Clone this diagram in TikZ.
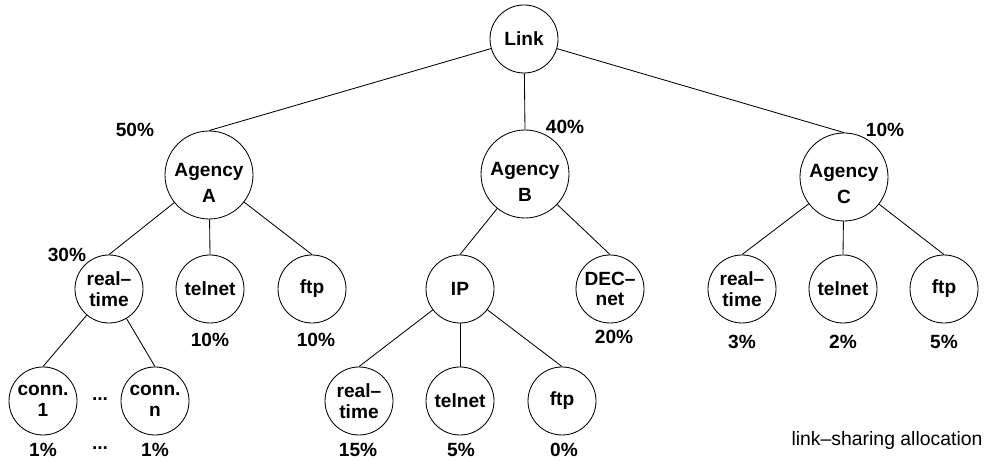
\documentclass[tikz,border=0pt]{standalone}
\usepackage{fontspec}
\setmainfont{Liberation Sans}
\begin{document}
\begin{tikzpicture}[
    cl/.style={circle, draw, line width=0.6pt, inner sep=0pt, minimum size=1.7cm, align=center, font=\fontsize{13.6}{14.5}\selectfont\bfseries},
    ag/.style={cl, minimum size=2.2cm},
    pct/.style={font=\fontsize{13.6}{14.5}\selectfont\bfseries},
    edge/.style={line width=0.6pt}]
    \useasboundingbox (0,0) rectangle (24.675,11.525);

    % Root
    \node[cl] (link) at (13.1, 10.55) {Link};

    % Agencies
    \node[ag] (agA) at (5.225, 7.15) {\rule{0pt}{20pt}Agency\\[4pt]A};
    \node[ag] (agB) at (13.125, 7.175) {\rule{0pt}{20pt}Agency\\[4pt]B};
    \node[ag] (agC) at (21.1, 7.1) {\rule{0pt}{20pt}Agency\\[4pt]C};

    % Agency A classes
    \node[cl] (aRT) at (2.725, 4.3) {real--\\time};
    \node[cl] (aTel) at (5.25, 4.3) {telnet};
    \node[cl] (aFtp) at (7.8, 4.3) {ftp};
    \node[cl] (conn1) at (1.075, 1.5) {conn.\\1};
    \node[cl] (connN) at (3.875, 1.5) {conn.\\n};
    \node[pct] (dotsA) at (2.5, 1.55) {...};

    % Agency B classes
    \node[cl] (ip) at (11.5, 4.3) {IP};
    \node[cl] (decnet) at (15.25, 4.3) {DEC--\\net};
    \node[cl] (ipRT) at (8.975, 1.5) {real--\\time};
    \node[cl] (ipTel) at (11.5, 1.5) {telnet};
    \node[cl] (ipFtp) at (14.05, 1.5) {ftp};

    % Agency C classes
    \node[cl] (cRT) at (18.55, 4.3) {real--\\time};
    \node[cl] (cTel) at (21.075, 4.3) {telnet};
    \node[cl] (cFtp) at (23.6, 4.3) {ftp};

    % Tree edges
    \foreach \p/\c in {link/agA, link/agB, link/agC, agA/aRT, agA/aTel, agA/aFtp,
                       aRT/conn1, aRT/connN, agB/ip, agB/decnet, ip/ipRT, ip/ipTel,
                       ip/ipFtp, agC/cRT, agC/cTel, agC/cFtp}
        \draw[edge] (\p) -- (\c.north);

    % Shares
    \node[pct] (pA) at (3.375, 8.275) {50\%};
    \node[pct] (pB) at (14.125, 8.35) {40\%};
    \node[pct] (pC) at (22.125, 8.275) {10\%};
    \node[pct] (pART) at (1.675, 5.15) {30\%};
    \node[pct] (pATel) at (5.25, 3.025) {10\%};
    \node[pct] (pAFtp) at (7.9, 3.025) {10\%};
    \node[pct] (pDec) at (15.35, 3.1) {20\%};
    \node[pct] (pCRT) at (18.55, 2.975) {3\%};
    \node[pct] (pCTel) at (21.075, 2.975) {2\%};
    \node[pct] (pCFtp) at (23.6, 2.975) {5\%};
    \node[pct] (pC1) at (1.075, 0.275) {1\%};
    \node[pct] (pDots) at (2.5, 0.33) {...};
    \node[pct] (pCN) at (3.875, 0.275) {1\%};
    \node[pct] (pIRT) at (8.95, 0.275) {15\%};
    \node[pct] (pITel) at (11.525, 0.275) {5\%};
    \node[pct] (pIFtp) at (14.1, 0.275) {0\%};

    % Caption
    \node[font=\fontsize{13.8}{15}\selectfont] (cap) at (22.175, 0.525) {link--sharing allocation};
\end{tikzpicture}
\end{document}
